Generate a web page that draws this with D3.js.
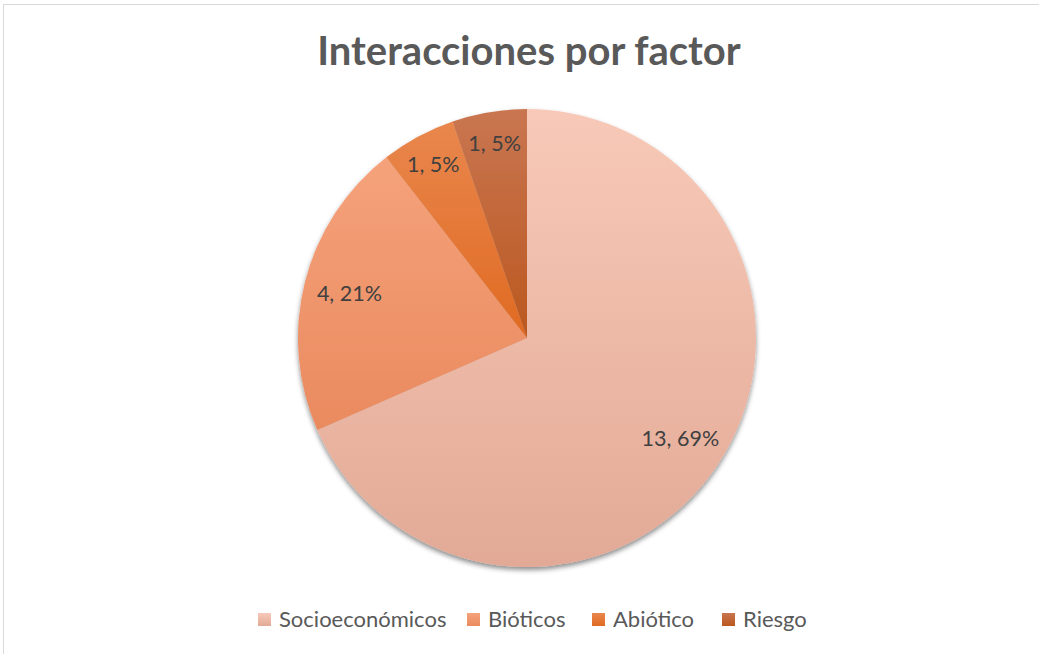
<!DOCTYPE html>
<html>
<head>
<meta charset="utf-8">
<script src="https://cdn.jsdelivr.net/npm/d3@7"></script>
<style>
  body { margin: 0; background: #fff; }
  svg { display: block; font-family: Lato, 'Open Sans', sans-serif; }
</style>
</head>
<body>
<svg></svg>
<script>
var width = 1039;
var height = 654;

// data
var categories = ['Socioeconómicos', 'Bióticos', 'Abiótico', 'Riesgo'];
var counts = [13, 4, 1, 1];
var pctLabels = ['69%', '21%', '5%', '5%'];
var topColors = ['#f8c9b8', '#f5a27b', '#e9874d', '#c97651'];
var bottomColors = ['#e2aa96', '#ea8a5f', '#e06a22', '#bb581f'];

var cx = 527, cy = 338, radius = 229;

var svg = d3.select('svg')
			.attr('width', width)
			.attr('height', height);

// chart frame
svg.append('rect')
   .attr('x', 3.5)
   .attr('y', 4.5)
   .attr('width', width)
   .attr('height', height)
   .attr('fill', '#fff')
   .attr('stroke', '#d9d9d9');

var defs = svg.append('defs');

defs.append('filter')
	.attr('id', 'shadow')
	.attr('x', '-10%').attr('y', '-10%')
	.attr('width', '120%').attr('height', '120%')
  .append('feDropShadow')
	.attr('dx', 0)
	.attr('dy', 3)
	.attr('stdDeviation', 2.5)
	.attr('flood-color', '#000')
	.attr('flood-opacity', 0.45);

categories.forEach((c, i) => {
	var g = defs.append('linearGradient')
				.attr('id', 'grad' + i)
				.attr('x1', 0).attr('y1', 0)
				.attr('x2', 0).attr('y2', 1);
	g.append('stop').attr('offset', '0%').attr('stop-color', topColors[i]);
	g.append('stop').attr('offset', '100%').attr('stop-color', bottomColors[i]);
});

svg.append('text')
   .attr('x', 529)
   .attr('y', 65)
   .attr('text-anchor', 'middle')
   .attr('font-size', 40)
   .attr('font-weight', 'bold')
   .attr('fill', '#595959')
   .text('Interacciones por factor');

var pie = d3.pie()
			.value(d => d)
			.sort(null);

var arc = d3.arc()
			.innerRadius(0)
			.outerRadius(radius);

var arcs = pie(counts);

var chart = svg.append('g')
			   .attr('transform', `translate(${cx}, ${cy})`);

chart.append('g')
	 .attr('filter', 'url(#shadow)')
   .selectAll('path')
   .data(arcs)
   .enter()
   .append('path')
	 .attr('d', arc)
	 .attr('fill', (d, i) => `url(#grad${i})`)
	 .attr('stroke', 'none');

chart.selectAll('.label')
	 .data(arcs)
	 .enter()
	 .append('text')
	   .classed('label', true)
	   .attr('transform', d => {
	   	var r = (d.endAngle - d.startAngle) > 1 ? radius * 0.8 : radius * 0.86;
	   	var a = (d.startAngle + d.endAngle) / 2;
	   	return `translate(${Math.sin(a) * r}, ${-Math.cos(a) * r})`;
	   })
	   .attr('text-anchor', 'middle')
	   .attr('dy', '0.35em')
	   .attr('font-size', 21.5)
	   .attr('fill', '#404040')
	   .text((d, i) => `${d.data}, ${pctLabels[i]}`);

// legend
var legendX = [258, 467, 592, 722];
var legend = svg.selectAll('.legend')
				.data(categories)
				.enter()
				.append('g')
				  .classed('legend', true)
				  .attr('transform', (d, i) => `translate(${legendX[i]}, 619)`);

legend.append('rect')
	  .attr('x', 0)
	  .attr('y', -6)
	  .attr('width', 13)
	  .attr('height', 13)
	  .attr('fill', (d, i) => `url(#grad${i})`);

legend.append('text')
	  .attr('x', 21)
	  .attr('dy', '0.35em')
	  .attr('font-size', 22)
	  .attr('fill', '#595959')
	  .text(d => d);
</script>
</body>
</html>
